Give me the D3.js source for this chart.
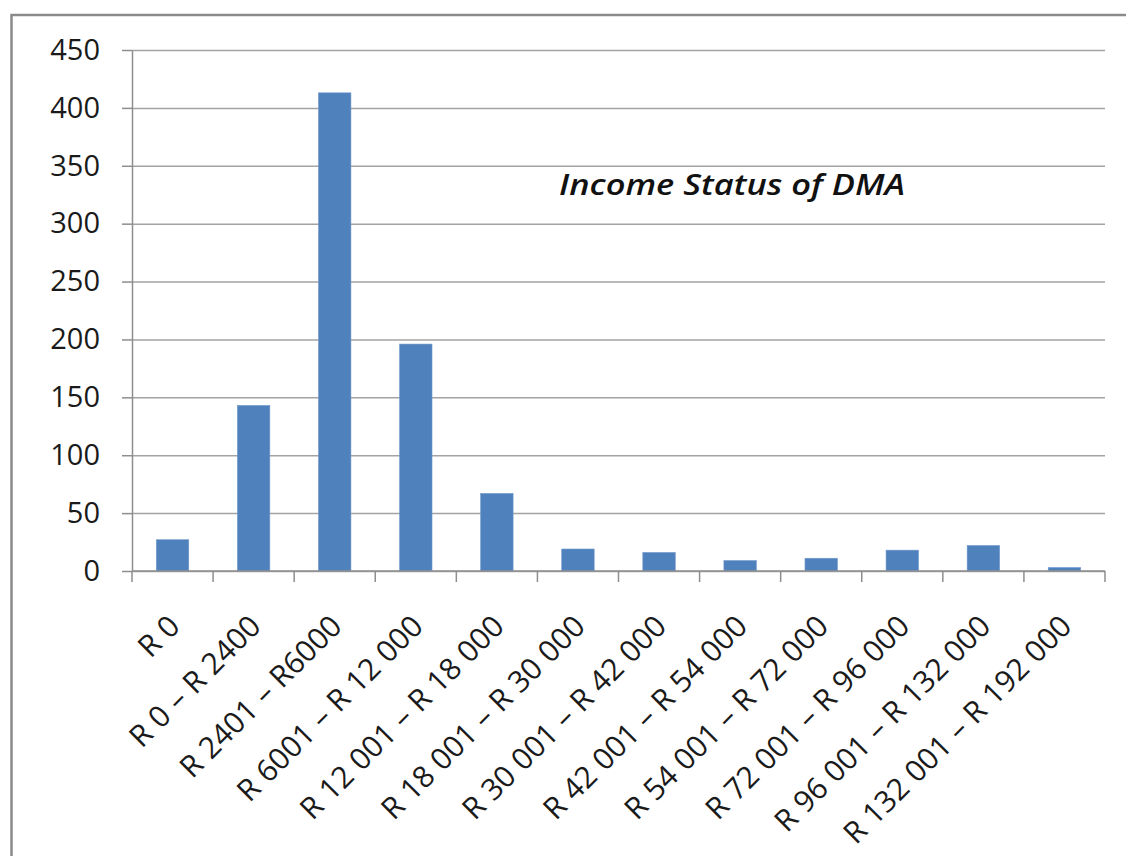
<!DOCTYPE html>
<html>
<head>
<meta charset="utf-8">
<script src="https://cdn.jsdelivr.net/npm/d3@7"></script>
<style>
  html, body { margin: 0; padding: 0; background: #ffffff; }
  svg { display: block; }
</style>
</head>
<body>
<svg id="chart" width="1126" height="856"></svg>
<script>
// Income brackets (annual, Rand) and number of respondents in each
const categories = [
  "R 0",
  "R 0 – R 2400",
  "R 2401 – R6000",
  "R 6001 – R 12 000",
  "R 12 001 – R 18 000",
  "R 18 001 – R 30 000",
  "R 30 001 – R 42 000",
  "R 42 001 – R 54 000",
  "R 54 001 – R 72 000",
  "R 72 001 – R 96 000",
  "R 96 001 – R 132 000",
  "R 132 001 – R 192 000"
];
const counts = [27, 143, 413, 196, 67, 19, 16, 9, 11, 18, 22, 3];
const yTicks = [0, 50, 100, 150, 200, 250, 300, 350, 400, 450];
const chartTitle = "Income Status of DMA";

const svg = d3.select("#chart");
const plot = { left: 132, right: 1105, top: 50, bottom: 571 };
const gridColor = "#a3a3a3";
const axisColor = "#8e8e8e";
const fontFamily = "'Open Sans', sans-serif";

// Outer chart frame (runs off the right and bottom edges)
svg.append("rect")
  .attr("x", 11.5).attr("y", 15)
  .attr("width", 1300).attr("height", 1000)
  .attr("fill", "#ffffff")
  .attr("stroke", "#8a8a8a")
  .attr("stroke-width", 2.5);

const x = d3.scaleBand()
  .domain(categories)
  .range([plot.left, plot.right])
  .paddingInner(0.6)
  .paddingOuter(0.3);

const y = d3.scaleLinear()
  .domain([0, 450])
  .range([plot.bottom, plot.top]);

// Horizontal gridlines
const grid = svg.append("g")
  .attr("transform", `translate(${plot.left},0)`)
  .call(d3.axisLeft(y).tickValues(yTicks).tickSize(-(plot.right - plot.left)).tickFormat(""));
grid.select(".domain").remove();
grid.selectAll(".tick line")
  .attr("stroke", gridColor)
  .attr("stroke-width", 1.5);

// Y axis with outward ticks and labels
const yAxis = svg.append("g")
  .attr("transform", `translate(${plot.left},0)`)
  .call(d3.axisLeft(y).tickValues(yTicks).tickSizeInner(10).tickSizeOuter(0).tickPadding(22));
yAxis.select(".domain")
  .attr("stroke", axisColor)
  .attr("stroke-width", 1.5);
yAxis.selectAll(".tick line")
  .attr("stroke", axisColor)
  .attr("stroke-width", 1.5);
yAxis.selectAll(".tick text")
  .attr("fill", "#1a1a1a")
  .style("font-family", fontFamily)
  .style("font-size", "29px");

// Bars
svg.append("g")
  .selectAll("rect")
  .data(counts)
  .join("rect")
  .attr("x", (d, i) => x(categories[i]))
  .attr("y", d => y(d))
  .attr("width", x.bandwidth())
  .attr("height", d => y(0) - y(d))
  .attr("fill", "#4f81bd")
  .attr("stroke", "#6f97cb")
  .attr("stroke-width", 0.6);

// X axis baseline
svg.append("line")
  .attr("x1", plot.left).attr("x2", plot.right)
  .attr("y1", y(0)).attr("y2", y(0))
  .attr("stroke", axisColor)
  .attr("stroke-width", 1.5);

// Tick marks at category boundaries
const step = x.step();
const boundaries = categories.map(c => x(c) - x.paddingOuter() * step).concat([plot.right]);
svg.append("g")
  .selectAll("line")
  .data(boundaries)
  .join("line")
  .attr("x1", d => d).attr("x2", d => d)
  .attr("y1", y(0)).attr("y2", y(0) + 11)
  .attr("stroke", axisColor)
  .attr("stroke-width", 1.5);

// Rotated category labels
svg.append("g")
  .selectAll("text")
  .data(categories)
  .join("text")
  .attr("transform", d => `translate(${x(d) + x.bandwidth() / 2 + 9},628) rotate(-45)`)
  .attr("text-anchor", "end")
  .attr("fill", "#1a1a1a")
  .style("font-family", fontFamily)
  .style("font-size", "30px")
  .style("word-spacing", "0.5px")
  .text(d => d);

// Chart title inside the plot area
svg.append("text")
  .attr("x", 732)
  .attr("y", 195)
  .attr("text-anchor", "middle")
  .attr("fill", "#111111")
  .attr("textLength", 346)
  .attr("lengthAdjust", "spacingAndGlyphs")
  .style("font-family", fontFamily)
  .style("font-style", "italic")
  .style("font-weight", "600")
  .style("font-size", "29px")
  .text(chartTitle);
</script>
</body>
</html>
